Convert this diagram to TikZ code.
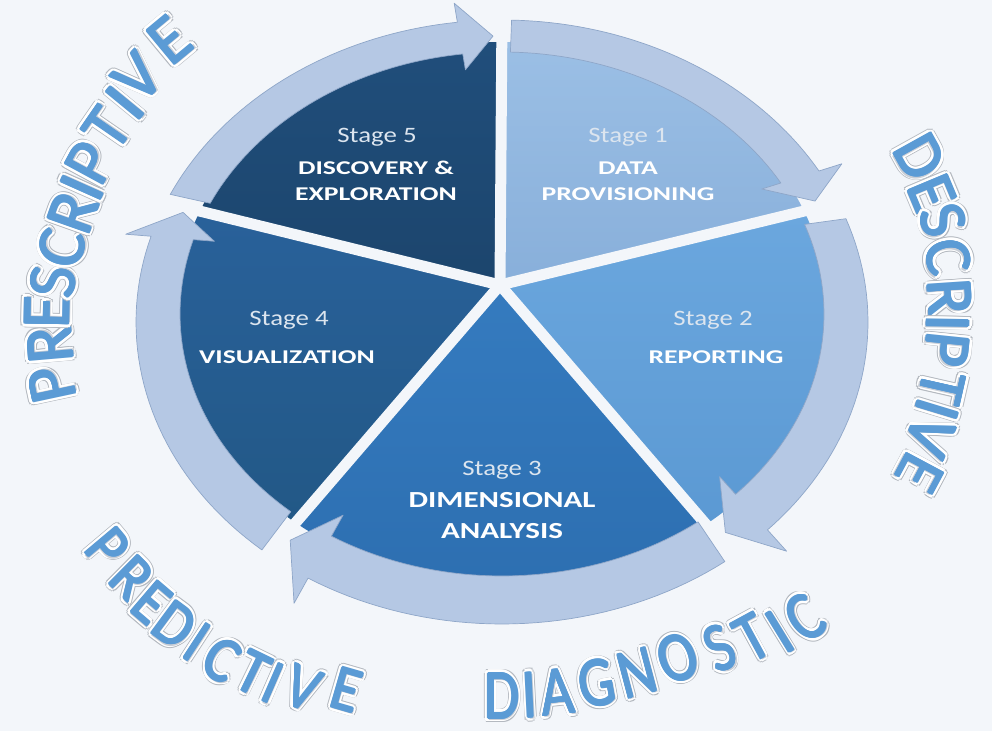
\documentclass[tikz,border=0pt]{standalone}
\usepackage{fontspec}
\setmainfont{Carlito}

\definecolor{paper}{HTML}{F3F6FA}
\definecolor{stageAtop}{HTML}{9BBFE5}
\definecolor{stageAbot}{HTML}{88AFDA}
\definecolor{stageBtop}{HTML}{6BA7DE}
\definecolor{stageBbot}{HTML}{5B99D3}
\definecolor{stageCtop}{HTML}{357BBF}
\definecolor{stageCbot}{HTML}{2D6FB1}
\definecolor{stageDtop}{HTML}{29619A}
\definecolor{stageDbot}{HTML}{225886}
\definecolor{stageEtop}{HTML}{204E7B}
\definecolor{stageEbot}{HTML}{1C456D}
\definecolor{ringfill}{HTML}{B5C8E4}
\definecolor{ringedge}{HTML}{8EA6C8}
\definecolor{labelgray}{HTML}{DCE5EF}
\definecolor{wordblue}{HTML}{5B9BD5}
\definecolor{haloedge}{HTML}{B4B9C0}
\definecolor{haloshade}{HTML}{C9CED6}

% outlined letter of the outer words
\newcommand{\halo}[1]{%
  \foreach \hx/\hy in {4.3/0,3.72/2.15,2.15/3.72,0/4.3,-2.15/3.72,-3.72/2.15,-4.3/0,-3.72/-2.15,-2.15/-3.72,0/-4.3,2.15/-3.72,3.72/-2.15}%
    {\rlap{\kern\hx pt\raisebox{\hy pt}{\textcolor{haloedge}{#1}}}}%
  \foreach \hx/\hy in {3.5/0,3.03/1.75,1.75/3.03,0/3.5,-1.75/3.03,-3.03/1.75,-3.5/0,-3.03/-1.75,-1.75/-3.03,0/-3.5,1.75/-3.03,3.03/-1.75}%
    {\rlap{\kern\hx pt\raisebox{\hy pt}{\textcolor{white}{#1}}}}%
  \rlap{\kern1.8pt\raisebox{-1.8pt}{\textcolor{haloshade}{#1}}}%
  \foreach \hx/\hy in {0.8/0,0.4/0.7,-0.4/0.7,-0.8/0,-0.4/-0.7,0.4/-0.7}%
    {\rlap{\kern\hx pt\raisebox{\hy pt}{\textcolor{wordblue}{#1}}}}%
  \textcolor{wordblue}{#1}}

% one curved arrow of the ring: start angle, head base angle, tip angle
\newcommand{\ringarrow}[3]{%
  \filldraw[ring] plot[domain=#1:#2, samples=40] ({502+366*cos(\x)}, {409+302*sin(\x)})  % outer edge
    -- ({502+392.4*cos(#2)}, {404.2+326*sin(#2)})                                       % outer barb
    -- ({502+344*cos(#3)}, {413+282*sin(#3)})                                           % tip
    -- ({502+300*cos(#2)}, {421+242*sin(#2)})                                           % inner barb
    -- plot[domain=#2:#1, samples=40] ({502+322*cos(\x)}, {417+262*sin(\x)}) -- cycle;} % inner edge

\begin{document}
\begin{tikzpicture}[x=1pt, y=1pt,
    gap/.style={draw=paper, line width=11pt},
    ring/.style={fill=ringfill, draw=ringedge, line width=0.7pt, line join=round},
    stagelbl/.style={text=labelgray, inner sep=0pt, font=\fontsize{22}{26}\selectfont, xscale=1.22},
    stagetitle/.style={text=white, align=center, inner sep=0pt, font=\bfseries\fontsize{19.5}{26}\selectfont, xscale=1.42},
    bigtitle/.style={text=white, align=center, inner sep=0pt, font=\bfseries\fontsize{23}{31}\selectfont, xscale=1.35},
    bigword/.style={inner sep=0pt, font=\fontsize{68}{68}\selectfont}]

    \useasboundingbox (0,0) rectangle (992,731);
    \fill[paper] (0,0) rectangle (992,731);                 % background

    \coordinate (apex) at (500,446);                        % where the five slices meet

\foreach \from/\to/\tone in {90/21.5/A, 21.5/-51.5/B, -51.5/-129/C, -129/-201.5/D, 158.5/90/E}
    \shade[top color=stage\tone top, bottom color=stage\tone bot]
        (apex) -- plot[domain=\from:\to, samples=50] ({502+326*cos(\x)}, {418+271*sin(\x)}) -- cycle;

\foreach \b [count=\i] in {90,21.5,-51.5,-129,-201.5}{
    \coordinate (rim\i) at ({502+360*cos(\b)}, {418+300*sin(\b)});
    \draw[gap] (apex) -- (rim\i);                           % white gap between slices
}

    \ringarrow{155}{97}{91.5}                               % arrow over stage 5
    \ringarrow{88.5}{30}{24.5}                              % arrow over stage 1
    \ringarrow{20}{-43.5}{-49.5}                            % arrow over stage 2
    \ringarrow{-52.5}{-122}{-128}                           % arrow over stage 3
    \ringarrow{-131}{-196.5}{-202}                          % arrow over stage 4

    \node[stagelbl]   (lab1) at (628,594) {Stage 1};
    \node[stagetitle] (tit1) at (628,550) {DATA\\PROVISIONING};
    \node[stagelbl]   (lab2) at (713,411) {Stage 2};
    \node[stagetitle] (tit2) at (716,374) {REPORTING};
    \node[stagelbl]   (lab3) at (502,261) {Stage 3};
    \node[bigtitle]   (tit3) at (502,215) {DIMENSIONAL\\ANALYSIS};
    \node[stagelbl]   (lab4) at (289,411) {Stage 4};
    \node[stagetitle] (tit4) at (287,374) {VISUALIZATION};
    \node[stagelbl]   (lab5) at (377,594) {Stage 5};
    \node[stagetitle] (tit5) at (376,550) {DISCOVERY \&\\EXPLORATION};

\begin{scope}[shift={(502,413)}, xscale=1.2]
\foreach \ch/\a/\r [count=\i] in {P/190.1/381, R/184.1/377.6, E/179.1/379.2, S/174.5/375.9, C/169.2/373.3, R/163.6/372.6,
        I/159.6/373.4, P/155.7/376.7, T/150.1/379.3, I/145.6/380.7, V/141.6/386.8, E/134.9/392.2}
    \node[bigword, rotate={atan2(-cos(\a),1.2*sin(\a))}] (presc\i) at (\a:\r) {\halo{\ch}};
\foreach \ch/\a/\r [count=\i] in {D/24.8/383.7, E/19.2/379.5, S/14.9/380.3, C/9.3/376.7, R/3.2/373.9, I/-0.8/371.7,
        P/-4.9/372.2, T/-10.7/373.1, I/-14.2/374, V/-18.4/376, E/-24.0/381.2}
    \node[bigword, font=\fontsize{66}{66}\selectfont, rotate={atan2(-cos(\a),1.2*sin(\a))}] (descr\i) at (\a:\r) {\halo{\ch}};
\foreach \ch/\a/\r [count=\i] in {P/215.0/400.9, R/220.1/403.3, E/224.3/407.8, D/228.4/410.5, I/231.9/411.8,
        C/235.7/414.0, T/239.7/411.2, I/242.4/411.9, V/245.9/405.5, E/250.8/393.8}
    \node[bigword, font=\fontsize{64}{64}\selectfont, rotate={atan2(cos(\a),-1.2*sin(\a))}, xscale=0.9] (predi\i) at (\a:\r) {\halo{\ch}};
\foreach \ch/\a/\r [count=\i] in {D/270/378, I/273.5/377.7, A/277.0/376.8, G/282.2/373.5, N/287.6/372.4,
        O/293.3/370.3, S/298.8/376.7, T/303.1/381.8, I/306.4/390.2, C/310.1/392.1}
    \node[bigword, font=\fontsize{70}{70}\selectfont, rotate={atan2(cos(\a),-1.2*sin(\a))}, xscale=0.82] (diagn\i) at (\a:\r) {\halo{\ch}};
\end{scope}

\end{tikzpicture}
\end{document}
